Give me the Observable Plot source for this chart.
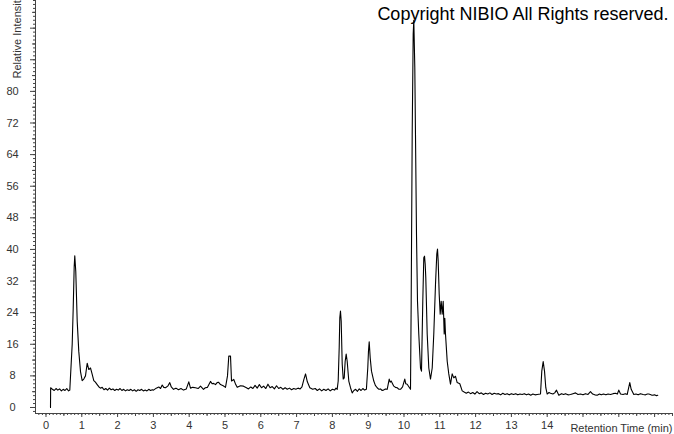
<!DOCTYPE html>
<html><head><meta charset="utf-8">
<script src="https://cdn.jsdelivr.net/npm/d3@7"></script>
<script src="https://cdn.jsdelivr.net/npm/@observablehq/plot@0.6"></script>
<style>body{margin:0;background:#fff} #chart{width:674px;height:434px;overflow:hidden}</style>
</head><body><div id="chart"></div>
<script>
const times = [0.126,0.13,0.18,0.23,0.28,0.33,0.38,0.43,0.48,0.53,0.58,0.63,0.665,0.732,0.760,0.788,0.804,0.832,0.872,0.916,0.964,1.011,1.056,1.103,1.151,1.196,1.243,1.291,1.335,1.38,1.430,1.48,1.522,1.57,1.62,1.67,1.72,1.77,1.82,1.87,1.92,1.97,2.02,2.07,2.12,2.17,2.22,2.27,2.32,2.37,2.42,2.47,2.52,2.57,2.62,2.67,2.72,2.77,2.82,2.87,2.92,2.97,3.003,3.08,3.15,3.2,3.246,3.29,3.338,3.40,3.458,3.50,3.561,3.63,3.701,3.77,3.841,3.92,3.989,4.036,4.10,4.176,4.25,4.316,4.399,4.45,4.511,4.595,4.64,4.679,4.735,4.78,4.818,4.874,4.95,5.014,5.070,5.106,5.154,5.182,5.246,5.30,5.341,5.433,5.517,5.60,5.656,5.72,5.78,5.84,5.90,5.96,6.02,6.08,6.14,6.20,6.26,6.32,6.38,6.44,6.50,6.56,6.62,6.68,6.74,6.80,6.86,6.92,6.98,7.04,7.10,7.15,7.20,7.25,7.30,7.37,7.45,7.52,7.58,7.64,7.70,7.76,7.82,7.88,7.94,8.00,8.06,8.10,8.134,8.162,8.190,8.207,8.226,8.246,8.274,8.302,8.330,8.357,8.385,8.413,8.458,8.506,8.553,8.60,8.65,8.70,8.75,8.80,8.85,8.90,8.95,8.989,9.008,9.028,9.056,9.092,9.156,9.20,9.251,9.30,9.344,9.39,9.427,9.48,9.531,9.587,9.615,9.642,9.715,9.76,9.810,9.86,9.902,9.96,10.022,10.05,10.089,10.154,10.182,10.201,10.229,10.257,10.274,10.302,10.321,10.349,10.377,10.413,10.461,10.489,10.525,10.553,10.573,10.592,10.609,10.648,10.693,10.740,10.788,10.832,10.880,10.916,10.936,10.955,10.983,11.011,11.039,11.067,11.095,11.123,11.140,11.159,11.207,11.251,11.299,11.346,11.391,11.439,11.486,11.559,11.626,11.68,11.74,11.80,11.86,11.92,11.98,12.04,12.10,12.16,12.22,12.28,12.34,12.40,12.46,12.52,12.58,12.64,12.70,12.76,12.82,12.88,12.94,13.00,13.06,13.12,13.18,13.24,13.30,13.36,13.42,13.48,13.54,13.60,13.66,13.72,13.813,13.849,13.888,13.925,13.961,14.000,14.05,14.092,14.16,14.21,14.260,14.324,14.40,14.46,14.511,14.58,14.651,14.72,14.791,14.86,14.930,15.00,15.070,15.14,15.209,15.27,15.33,15.397,15.46,15.51,15.573,15.64,15.70,15.768,15.84,15.908,15.96,16.000,16.048,16.12,16.18,16.235,16.307,16.346,16.419,16.48,16.54,16.606,16.68,16.746,16.80,16.838,16.90,16.942,17.00,17.05,17.089];
const intensity = [0,5.0,4.6,4.3,4.8,4.4,4.7,4.2,4.6,4.3,4.8,4.2,4.4,16,25,35.7,38.4,34.4,21.8,14.2,9.1,6.8,7.2,8.0,11.2,9.6,10.0,8.4,6.8,6.4,5.8,5.2,4.9,5.1,4.5,4.8,4.4,4.9,4.5,4.7,4.3,4.6,4.4,4.8,4.3,4.6,4.2,4.5,4.3,4.6,4.2,4.5,4.1,4.5,4.3,4.6,4.2,4.4,4.2,4.6,4.3,4.5,4.4,4.9,5.2,4.8,5.7,5.1,5.0,5.4,6.3,5.2,4.6,4.9,4.5,4.8,4.4,4.7,6.5,4.9,5.1,5.0,4.8,5.4,4.6,5.0,5.1,6.6,6.0,6.1,5.8,6.3,6.4,5.8,5.5,5.1,8.0,13.0,13.0,6.7,7.1,5.8,5.1,5.5,5.4,5.0,4.7,5.2,4.8,5.6,4.9,5.8,5.0,5.4,4.8,5.9,5.0,5.3,4.7,5.5,4.8,5.1,4.6,5.0,4.6,4.9,4.5,4.8,4.6,4.9,4.7,5.2,7.0,8.5,6.5,5.0,4.6,4.8,4.3,4.7,4.2,4.6,4.3,4.7,4.2,4.6,4.4,4.9,4.6,6.7,15.1,22.7,24.4,21.9,11.0,7.2,7.5,11.7,13.5,11.7,6.7,5.0,3.7,4.3,4.6,4.1,4.7,4.3,4.8,4.4,4.6,10.1,14.3,16.6,12.6,9.2,6.7,5.6,5.0,4.6,4.7,4.3,4.4,4.7,4.6,7.2,6.4,6.7,5.4,5.1,5.0,4.6,4.6,5.2,7.2,6.0,5.9,5.0,4.6,26.9,69,94.5,98,86,69,43.9,26.9,18.6,10.0,9.2,26.9,37.9,38.3,36.3,32.8,18.6,10.0,7.2,10.0,18.6,31.2,38.8,40.1,37.1,28.7,23.6,26.9,23.6,26.9,18.6,22.6,18.6,11.7,8.5,5.9,8.5,7.5,7.9,6.3,6.0,4.2,3.9,3.6,3.9,3.5,3.8,3.4,4.0,3.5,3.7,3.3,3.6,3.4,3.7,3.3,3.6,3.4,3.5,3.2,3.6,3.3,3.5,3.2,3.5,3.3,3.5,3.2,3.4,3.3,3.5,3.2,3.4,3.1,3.4,3.2,3.3,3.4,9.2,11.6,9.2,5.0,3.4,3.8,3.6,3.4,3.7,4.4,3.1,3.5,3.3,3.5,3.2,3.3,3.5,3.7,3.3,3.4,3.2,3.5,3.3,4.0,3.4,3.2,3.1,3.4,3.2,3.4,3.2,3.4,3.3,3.5,3.6,3.4,4.4,3.4,3.3,3.5,3.3,6.3,4.6,3.3,3.4,3.2,3.5,3.3,3.2,3.4,3.4,3.2,3.1,3.2,3.0,3.1];
const xTickLabels = [0,1,2,3,4,5,6,7,8,9,10,11,12,13,14];
const yTickLabels = [0,8,16,24,32,40,48,56,64,72,80];
const xTitle = "Retention Time (min)";
const yTitle = "Relative Intensity";
const copyright = "Copyright NIBIO All Rights reserved.";
const xDomain = [-0.293, 17.528];
const yDomain = [-1.52, 103];

const data = times.map((t, i) => ({t, v: intensity[i]}));
const xMinor = d3.range(-2, 176).map(i => i / 10);
const xHalf = d3.range(0, 18).map(i => i + 0.5);
const xMajor = d3.range(0, 18);
const yMinor = d3.range(-1, 104);
const yHalf = d3.range(4, 104, 8);
const yMajor = d3.range(0, 104, 8);

const tickColor = "#444";
const chart = Plot.plot({
  width: 674, height: 434,
  marginLeft: 35, marginRight: 1, marginTop: 0, marginBottom: 21,
  x: {domain: xDomain, axis: null},
  y: {domain: yDomain, axis: null},
  style: {fontFamily: "'Liberation Sans', Arial, sans-serif", fontSize: "11px", color: "#333", background: "#fff"},
  marks: [
    Plot.axisX({ticks: xMinor, tickSize: 2, tickFormat: () => "", label: null, stroke: tickColor}),
    Plot.axisX({ticks: xHalf, tickSize: 3, tickFormat: () => "", label: null, stroke: tickColor}),
    Plot.axisX({ticks: xMajor, tickSize: 4, tickPadding: 4, label: null, stroke: tickColor,
      tickFormat: d => xTickLabels.includes(d) ? String(d) : ""}),
    Plot.axisY({ticks: yMinor, tickSize: 2, tickFormat: () => "", label: null, stroke: tickColor}),
    Plot.axisY({ticks: yHalf, tickSize: 3, tickFormat: () => "", label: null, stroke: tickColor}),
    Plot.axisY({ticks: yMajor, tickSize: 5, tickPadding: 18, textAnchor: "middle", label: null, stroke: tickColor,
      tickFormat: d => yTickLabels.includes(d) ? String(d) : ""}),
    Plot.ruleY([yDomain[0]], {stroke: tickColor}),
    Plot.ruleX([xDomain[0]], {stroke: tickColor}),
    Plot.line(data, {x: "t", y: "v", stroke: "#000", strokeWidth: 1.1}),
    Plot.text([copyright], {frameAnchor: "top-right", textAnchor: "end", lineAnchor: "top", dx: -5, dy: 7, fontSize: 18, fill: "#000"}),
    Plot.text([xTitle], {frameAnchor: "bottom-right", textAnchor: "end", lineAnchor: "middle", dx: -1, dy: 15, fill: "#333"}),
    Plot.text([yTitle], {frameAnchor: "top-left", textAnchor: "start", lineAnchor: "middle", rotate: -90, dx: -18, dy: 78, fill: "#333"})
  ]
});
document.getElementById("chart").append(chart);
</script>
</body></html>
